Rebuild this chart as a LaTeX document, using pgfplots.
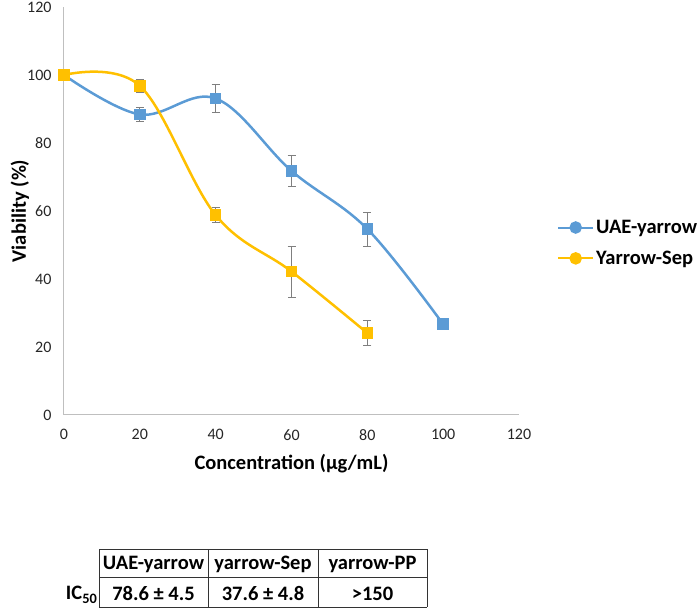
\documentclass[border=0pt]{standalone}
\usepackage{pgfplots}
\pgfplotsset{compat=1.18}
\usepackage{fontspec}
\setmainfont{Carlito}
\definecolor{cblue}{HTML}{5B9BD5}
\definecolor{cyel}{HTML}{FFC000}
\definecolor{caxis}{HTML}{BFBFBF}
\definecolor{cerr}{HTML}{7F7F7F}
\begin{document}
\begin{tikzpicture}[x=1pt,y=1pt]
\path[use as bounding box] (0,0) rectangle (699,610);
\begin{axis}[
  at={(64pt,195pt)}, anchor=origin,
  scale only axis, width=455pt, height=408pt,
  xmin=0, xmax=120, ymin=0, ymax=120,
  xtick={0,20,...,120}, ytick={0,20,...,120},
  axis x line=bottom, axis y line=left,
  axis line style={caxis, line width=1pt, -},
  major tick length=0pt,
  tick label style={font=\fontsize{16}{19}\selectfont, text=black!85},
  /pgf/number format/assume math mode=true,
  yticklabel style={xshift=-9pt},
  xticklabel style={yshift=-11pt},
  xlabel={\bfseries Concentration (µg/mL)},
  ylabel={\bfseries Viability (\%)},
  label style={font=\fontsize{20.5}{24}\selectfont},
  xlabel style={at={(axis description cs:0.5,-0.118)}, anchor=center},
  ylabel style={at={(axis description cs:-0.097,0.5)}, anchor=center, rotate=0},
  legend style={at={(axis description cs:1.0835,0.4216)}, anchor=west, draw=none, fill=none,
    font=\bfseries\fontsize{20.5}{24}\selectfont, row sep=12pt,
    legend cell align=left, inner sep=0pt},
  legend image code/.code={
    \draw[#1,mark=none,line width=2pt] (0pt,0pt) -- (35pt,0pt);
    \draw[#1,mark=*,mark size=5pt] plot coordinates {(17.5pt,0pt)};
  },
  every axis plot/.append style={line width=2.5pt, smooth, tension=0.6,
    mark=square*, mark size=4.5pt,
    error bars/y dir=both, error bars/y explicit,
    error bars/error bar style={cerr, line width=1pt},
    error bars/error mark options={cerr, rotate=90, mark size=4pt, line width=1pt}},
]
\addplot[cblue, mark options={fill=cblue, draw=cblue}] coordinates {
  (0,100) +- (0,0.5)
  (20,88.4) +- (0,2.0)
  (40,93.1) +- (0,4.1)
  (60,71.8) +- (0,4.5)
  (80,54.7) +- (0,5.0)
  (100,26.7) +- (0,0.7)
};
\addlegendentry{UAE-yarrow}
\addplot[cyel, mark options={fill=cyel, draw=cyel}] coordinates {
  (0,100) +- (0,0.5)
  (20,96.8) +- (0,1.9)
  (40,58.8) +- (0,2.3)
  (60,42.2) +- (0,7.5)
  (80,24.1) +- (0,3.7)
};
\addlegendentry{Yarrow-Sep}
\end{axis}
% IC50 table
\begin{scope}[line width=0.8pt, draw=black!80]
\draw (99,61) -- (427,61);
\draw (99,33) -- (427,33);
\draw (99,3) -- (427,3);
\draw (99,3) -- (99,61);
\draw (208,3) -- (208,61);
\draw (318,3) -- (318,61);
\draw (427,3) -- (427,61);
\end{scope}
\begin{scope}[every node/.style={font=\bfseries\fontsize{20.5}{24}\selectfont, inner sep=0pt, anchor=center}]
\node at (153.5,46) {UAE-yarrow};
\node at (263,46) {yarrow-Sep};
\node at (372.5,46) {yarrow-PP};
\node at (153.5,16) {78.6 ± 4.5};
\node at (263,16) {37.6 ± 4.8};
\node at (372.5,16) {>150};
\node[anchor=base east] at (97.5,10) {IC\textsubscript{50}};
\end{scope}
\end{tikzpicture}
\end{document}
